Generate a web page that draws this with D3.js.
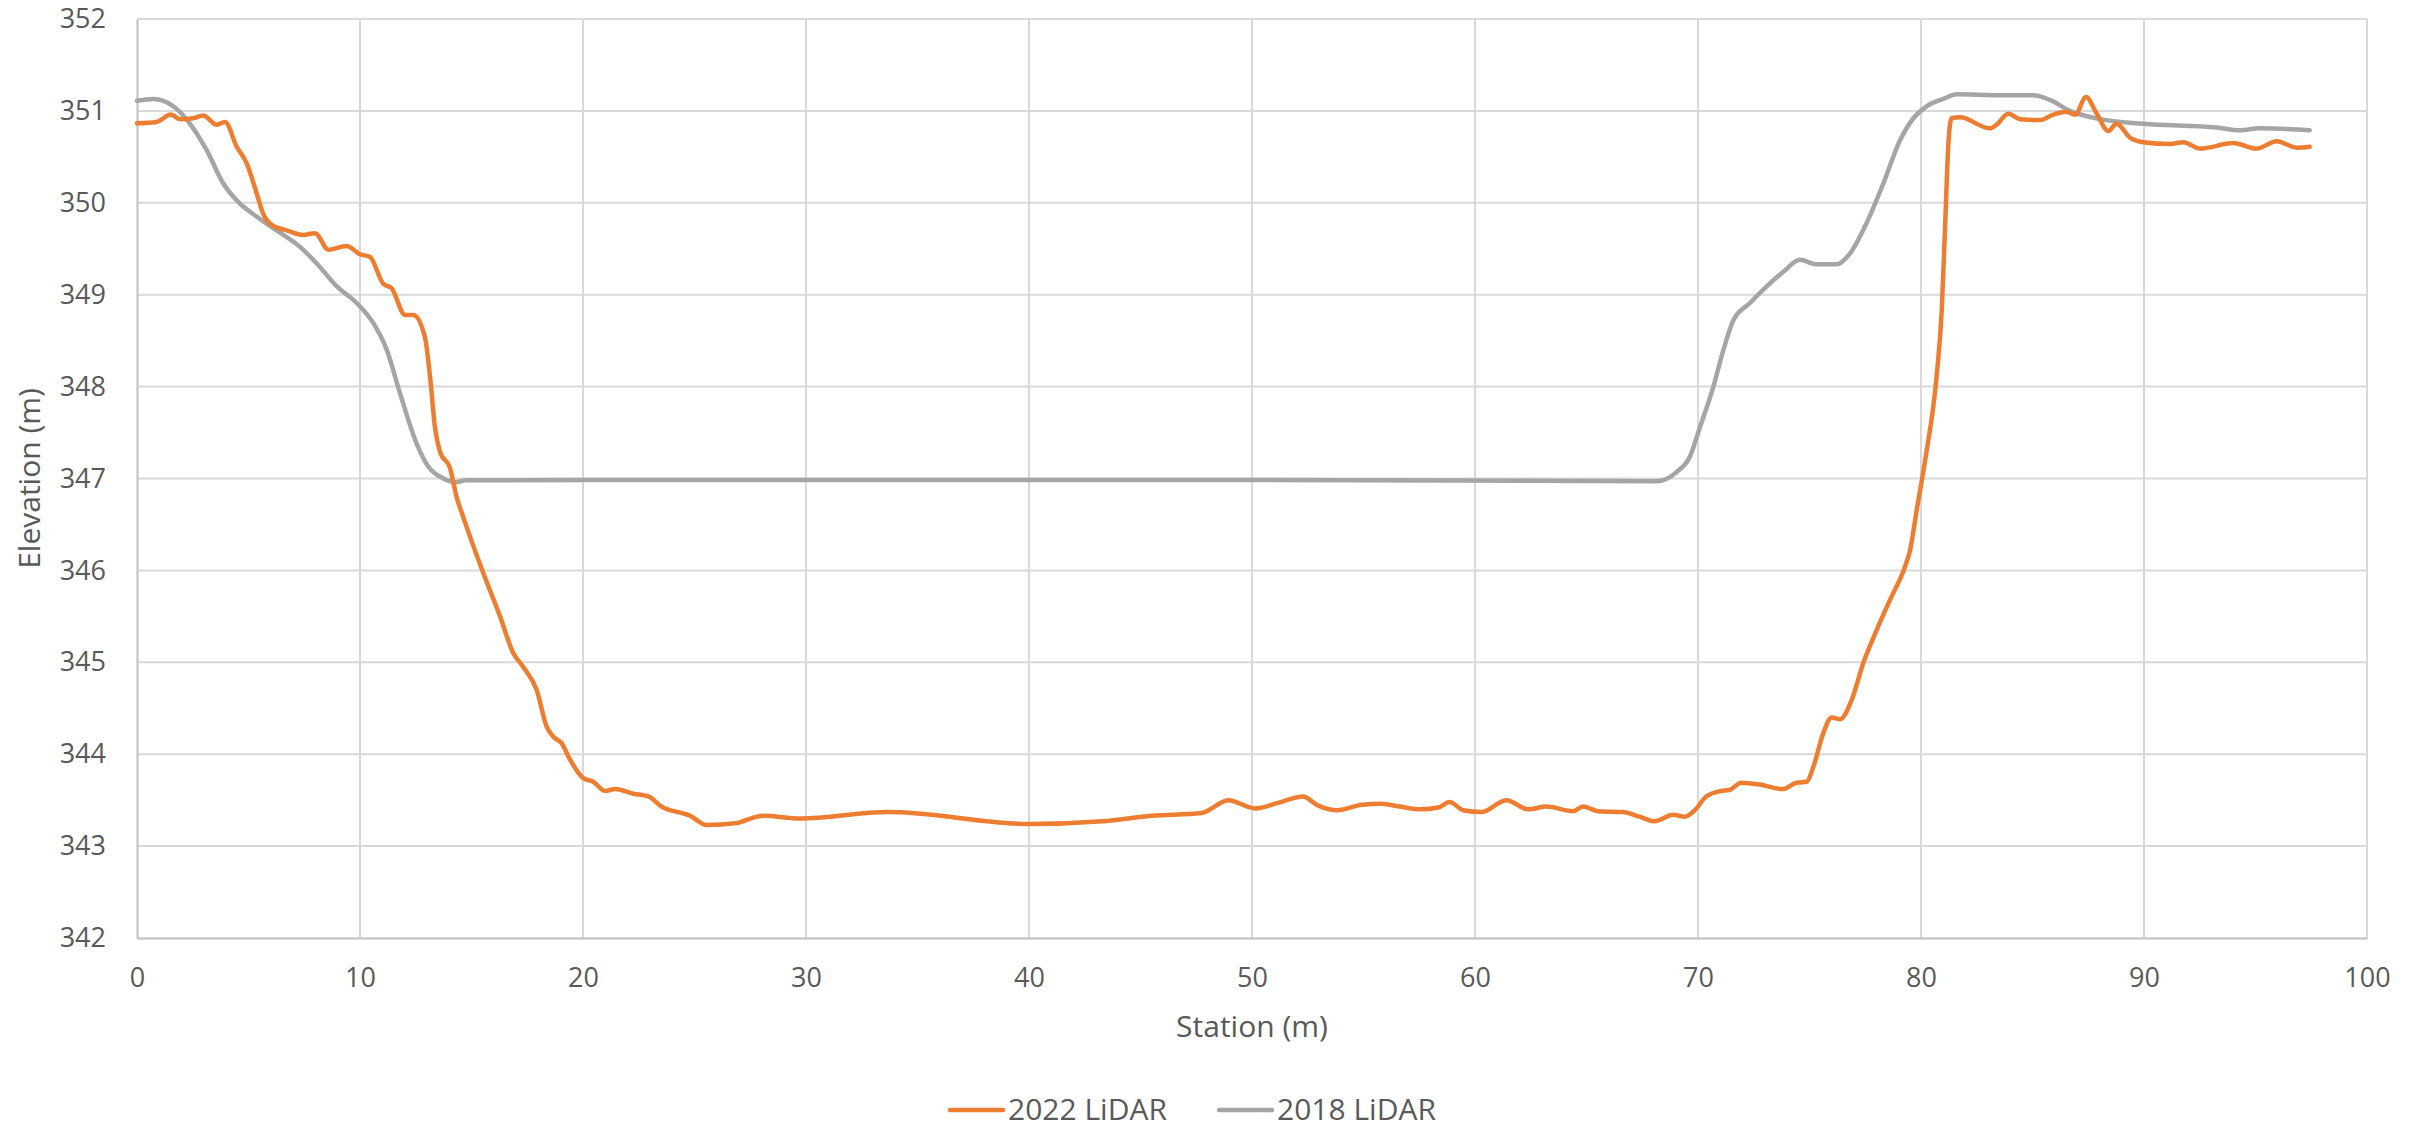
<!DOCTYPE html>
<html>
<head>
<meta charset="utf-8">
<script src="https://cdn.jsdelivr.net/npm/d3@7"></script>
<style>
  html, body { margin: 0; padding: 0; background: #fff; }
  svg text { font-family: "Open Sans", "Noto Sans", sans-serif; fill: #595959; }
</style>
</head>
<body>
<div id="chart"></div>
<script>
// station (m) and elevation (m)
const station2022 = [0, 0.88, 1.52, 1.93, 2.52, 2.97, 3.57, 3.95, 4.47, 4.92, 5.37, 5.66, 6.04, 6.71, 7.46, 7.99,
  8.58, 9.4, 10.0, 10.45, 11.04, 11.42, 12.02, 12.39, 12.91, 13.14, 13.36, 13.59, 14.04, 14.33, 14.63, 15.53,
  16.28, 16.87, 17.32, 17.92, 18.37, 18.67, 19.04, 19.42, 20.01, 20.46, 20.99, 21.43, 22.26, 22.93, 23.53, 24.8,
  25.55, 26.89, 27.64, 28.09, 29.74, 33.68, 40.0, 43.29, 45.5, 47.74, 48.94, 50.14, 51.17, 52.28, 52.97, 53.82,
  54.94, 55.79, 56.64, 57.53, 58.35, 58.87, 59.47, 60.29, 61.41, 62.38, 63.2, 64.4, 64.84, 65.52, 66.64, 67.38,
  68.06, 68.88, 69.4, 69.85, 70.37, 71.04, 71.41, 71.94, 72.76, 73.8, 74.42, 74.87, 75.17, 75.62, 75.99, 76.37,
  76.89, 77.41, 78.01, 78.61, 79.28, 79.51, 79.81, 80.22, 80.7, 80.93, 81.08, 81.23, 81.37, 81.75, 83.09, 83.39,
  83.91, 84.44, 85.34, 85.93, 86.53, 86.91, 87.4, 87.88, 88.4, 88.77, 89.37, 89.97, 91.17, 91.77, 92.51, 94.0,
  95.05, 95.95, 96.85, 97.43];
const elev2022 = [350.865, 350.88, 350.96, 350.91, 350.92, 350.95, 350.85, 350.88, 350.61, 350.43, 350.10, 349.88,
  349.76, 349.70, 349.65, 349.67, 349.49, 349.53, 349.44, 349.41, 349.12, 349.07, 348.78, 348.78, 348.54, 348.11,
  347.56, 347.29, 347.11, 346.80, 346.58, 345.97, 345.50, 345.10, 344.95, 344.70, 344.30, 344.19, 344.12, 343.94,
  343.74, 343.70, 343.60, 343.62, 343.57, 343.54, 343.43, 343.33, 343.23, 343.25, 343.31, 343.33, 343.30, 343.37,
  343.24, 343.27, 343.33, 343.36, 343.50, 343.41, 343.47, 343.54, 343.44, 343.39, 343.45, 343.46, 343.43, 343.40,
  343.42, 343.48, 343.39, 343.37, 343.50, 343.40, 343.43, 343.38, 343.43, 343.38, 343.37, 343.32, 343.27, 343.34,
  343.32, 343.39, 343.54, 343.60, 343.61, 343.69, 343.67, 343.62, 343.69, 343.70, 343.86, 344.23, 344.40, 344.38,
  344.59, 344.99, 345.35, 345.68, 346.04, 346.22, 346.66, 347.25, 348.11, 348.83, 349.74, 350.65, 350.92, 350.93,
  350.81, 350.85, 350.97, 350.91, 350.90, 350.96, 350.99, 350.96, 351.15, 350.97, 350.78, 350.86, 350.71, 350.66,
  350.64, 350.66, 350.59, 350.65, 350.59, 350.67, 350.60, 350.61];

const station2018 = [0, 0.74, 1.63, 2.38, 3.13, 3.87, 4.62, 5.37, 6.26, 7.31, 8.06, 8.96, 9.85, 10.6, 11.2, 11.79,
  12.54, 13.06, 13.74, 14.26, 14.78, 30, 50, 68.15, 69.04, 69.64, 70.09, 70.69, 71.14, 71.58, 72.33, 73.08, 73.83,
  74.57, 75.32, 76.22, 76.82, 77.56, 78.31, 79.06, 79.66, 80.25, 81.0, 81.6, 83.54, 85.03, 85.78, 86.68, 88.03,
  89.97, 93.26, 94.3, 95.2, 97.43];
const elev2018 = [351.11, 351.13, 351.05, 350.86, 350.57, 350.21, 349.99, 349.85, 349.70, 349.52, 349.34, 349.09,
  348.91, 348.69, 348.40, 347.93, 347.38, 347.13, 347.00, 346.96, 346.98, 346.985, 346.985, 346.97, 347.07, 347.24,
  347.56, 348.00, 348.40, 348.72, 348.91, 349.09, 349.25, 349.38, 349.33, 349.33, 349.45, 349.78, 350.21, 350.68,
  350.92, 351.05, 351.13, 351.18, 351.17, 351.17, 351.12, 351.00, 350.91, 350.86, 350.82, 350.79, 350.81, 350.79];

const seriesNames = ["2022 LiDAR", "2018 LiDAR"];
const seriesColors = ["#ED7D31", "#A5A5A5"];
const xTicks = [0, 10, 20, 30, 40, 50, 60, 70, 80, 90, 100];
const yTicks = [342, 343, 344, 345, 346, 347, 348, 349, 350, 351, 352];

const W = 2419, H = 1131;
const margin = { top: 19, right: 52, bottom: 193, left: 137 };
const width = W - margin.left - margin.right;
const height = H - margin.top - margin.bottom;

const svg = d3.select("#chart").append("svg")
    .attr("width", W)
    .attr("height", H);

const g = svg.append("g").attr("transform", `translate(${margin.left},${margin.top})`);

const x = d3.scaleLinear().domain([0, 100]).range([0, width]);
const y = d3.scaleLinear().domain([342, 352]).range([height, 0]);

// gridlines
g.append("g")
    .selectAll("line.vgrid")
    .data(xTicks.slice(1)).enter().append("line")
    .attr("x1", d => x(d)).attr("x2", d => x(d))
    .attr("y1", 0).attr("y2", height)
    .attr("stroke", "#D9D9D9").attr("stroke-width", 2);
g.append("g")
    .selectAll("line.hgrid")
    .data(yTicks.slice(1)).enter().append("line")
    .attr("x1", 0).attr("x2", width)
    .attr("y1", d => y(d)).attr("y2", d => y(d))
    .attr("stroke", "#D9D9D9").attr("stroke-width", 2);

// axes
const xAxis = g.append("g")
    .attr("transform", `translate(0,${height})`)
    .call(d3.axisBottom(x).tickValues(xTicks).tickSize(0).tickPadding(30));
const yAxis = g.append("g")
    .call(d3.axisLeft(y).tickValues(yTicks).tickSize(0).tickPadding(31));
[xAxis, yAxis].forEach(a => {
    a.select(".domain").attr("stroke", "#BFBFBF").attr("stroke-width", 2);
    a.selectAll("text").style("font-size", "27px").attr("fill", "#595959")
        .style("font-family", '"Open Sans", "Noto Sans", sans-serif');
});
xAxis.selectAll("text").attr("dy", "0.71em");

// lines
const line = d3.line()
    .x(d => x(d[0]))
    .y(d => y(d[1]))
    .curve(d3.curveMonotoneX);

const data2018 = station2018.map((s, i) => [s, elev2018[i]]);
const data2022 = station2022.map((s, i) => [s, elev2022[i]]);

g.append("path").datum(data2018)
    .attr("d", line).attr("fill", "none")
    .attr("stroke", seriesColors[1]).attr("stroke-width", 4.5)
    .attr("stroke-linejoin", "round").attr("stroke-linecap", "round");
g.append("path").datum(data2022)
    .attr("d", line).attr("fill", "none")
    .attr("stroke", seriesColors[0]).attr("stroke-width", 4.5)
    .attr("stroke-linejoin", "round").attr("stroke-linecap", "round");

// axis titles
svg.append("text")
    .attr("x", margin.left + width / 2)
    .attr("y", 1037)
    .attr("text-anchor", "middle")
    .style("font-size", "30px")
    .text("Station (m)");
svg.append("text")
    .attr("transform", `translate(40,${margin.top + height / 2}) rotate(-90)`)
    .attr("text-anchor", "middle")
    .style("font-size", "30px")
    .text("Elevation (m)");

// legend
const legendX = [950, 1219];
const legend = svg.append("g");
seriesNames.forEach((name, i) => {
    legend.append("line")
        .attr("x1", legendX[i]).attr("x2", legendX[i] + 53)
        .attr("y1", 1110).attr("y2", 1110)
        .attr("stroke", seriesColors[i]).attr("stroke-width", 4.5)
        .attr("stroke-linecap", "round");
    legend.append("text")
        .attr("x", legendX[i] + 58)
        .attr("y", 1120)
        .style("font-size", "30px")
        .text(name);
});
</script>
</body>
</html>
